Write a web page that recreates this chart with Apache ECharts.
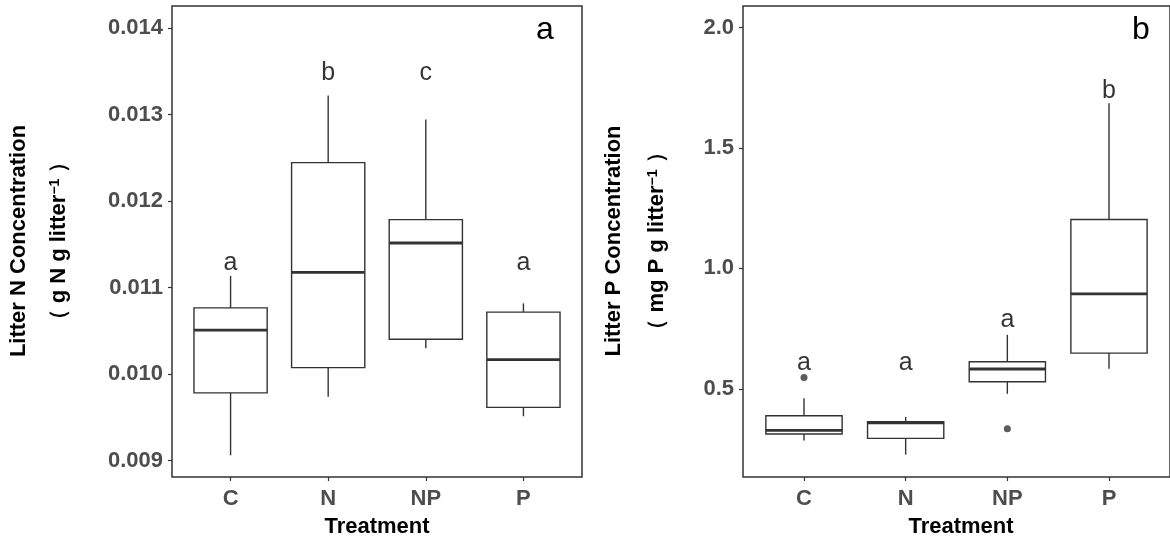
<!DOCTYPE html>
<html>
<head>
<meta charset="utf-8">
<script src="https://cdn.jsdelivr.net/npm/echarts@6.0.0/dist/echarts.min.js"></script>
<style>
html, body { margin: 0; padding: 0; background: #fff; }
#chart { width: 1170px; height: 541px; }
</style>
</head>
<body>
<div id="chart"></div>
<script>
// 处理组
const treatments = ['C', 'N', 'NP', 'P'];

// 箱线数据: [min, q1, median, q3, max]
const litterN = [
    [0.009061, 0.009783, 0.010509, 0.010765, 0.011135],
    [0.009739, 0.010074, 0.011175, 0.012444, 0.013221],
    [0.010297, 0.010402, 0.011515, 0.011785, 0.012943],
    [0.009512, 0.009615, 0.010167, 0.010716, 0.010817]
];
const litterP = [
    [0.285, 0.312, 0.327, 0.388, 0.461],
    [0.226, 0.294, 0.358, 0.363, 0.383],
    [0.479, 0.529, 0.582, 0.612, 0.724],
    [0.583, 0.648, 0.894, 1.203, 1.686]
];
// 离群点 [组序号, 值]
const outliersP = [[0, 0.547], [2, 0.334]];

// 显著性字母
const lettersN = ['a', 'b', 'c', 'a'];
const letterYN = [0.01128, 0.01348, 0.01348, 0.01128];
const lettersP = ['a', 'a', 'a', 'b'];
const letterYP = [0.608, 0.608, 0.784, 1.736];

// 刻度
const ticksN = [0.009, 0.010, 0.011, 0.012, 0.013, 0.014];
const ticksP = [0.5, 1.0, 1.5, 2.0];

const FONT = "'Liberation Sans', Arial, sans-serif";
const INK = '#333';

function renderBox(params, api) {
    const x = api.value(0);
    const p = [1, 2, 3, 4, 5].map(i => api.coord([x, api.value(i)]));
    const half = api.size([0.75, 0])[0] / 2;
    const cx = p[0][0];
    const thin = { stroke: INK, lineWidth: 1.4 };
    return {
        type: 'group',
        children: [
            { type: 'line', shape: { x1: cx, y1: p[4][1], x2: cx, y2: p[3][1] }, style: thin },
            { type: 'line', shape: { x1: cx, y1: p[1][1], x2: cx, y2: p[0][1] }, style: thin },
            {
                type: 'rect',
                shape: { x: cx - half, y: p[3][1], width: half * 2, height: p[1][1] - p[3][1] },
                style: { fill: '#fff', stroke: INK, lineWidth: 1.4 }
            },
            { type: 'line', shape: { x1: cx - half, y1: p[2][1], x2: cx + half, y2: p[2][1] }, style: { stroke: INK, lineWidth: 2.8 } }
        ]
    };
}

function xAxisFor(gridIndex) {
    return {
        type: 'value', gridIndex: gridIndex, min: -0.6, max: 3.6,
        axisLine: { show: false, onZero: false },
        splitLine: { show: false },
        axisTick: { show: true, length: 4, customValues: [0, 1, 2, 3], lineStyle: { color: INK, width: 1.2 } },
        axisLabel: {
            customValues: [0, 1, 2, 3], formatter: v => treatments[Math.round(v)],
            margin: 11, color: '#4d4d4d', fontWeight: 'bold', fontSize: 22, fontFamily: FONT
        }
    };
}

function yAxisFor(gridIndex, min, max, ticks, digits) {
    return {
        type: 'value', gridIndex: gridIndex, min: min, max: max,
        axisLine: { show: false, onZero: false },
        splitLine: { show: false },
        axisTick: { show: true, length: 4, customValues: ticks, lineStyle: { color: INK, width: 1.2 } },
        axisLabel: {
            customValues: ticks, formatter: v => v.toFixed(digits),
            margin: 9, color: '#4d4d4d', fontWeight: 'bold', fontSize: 22, fontFamily: FONT
        }
    };
}

function letterSeries(idx, letters, ys) {
    return {
        type: 'scatter', xAxisIndex: idx, yAxisIndex: idx, symbolSize: 0, silent: true,
        data: letters.map((t, i) => ({ value: [i, ys[i]], name: t })),
        label: { show: true, position: 'inside', formatter: p => p.name, color: '#000', fontSize: 25, fontFamily: FONT }
    };
}

function vText(x, y, text, rich) {
    return {
        type: 'text', x: x, y: y, rotation: Math.PI / 2,
        style: { text: text, rich: rich, align: 'center', verticalAlign: 'middle', fill: '#000', font: 'bold 22px ' + FONT }
    };
}

const richUnit = {
    n: { fontSize: 22, fontWeight: 'bold', fontFamily: FONT, color: '#000' },
    s: { fontSize: 14, fontWeight: 'bold', fontFamily: FONT, color: '#000', verticalAlign: 'top', padding: [0, 0, 8, 0] }
};

const chart = echarts.init(document.getElementById('chart'));
chart.setOption({
    backgroundColor: '#fff',
    animation: false,
    grid: [
        { left: 172, top: 6, width: 410, height: 471, show: true, borderColor: INK, borderWidth: 1.5, backgroundColor: 'transparent' },
        { left: 743, top: 6, width: 435, height: 471, show: true, borderColor: INK, borderWidth: 1.5, backgroundColor: 'transparent' }
    ],
    xAxis: [xAxisFor(0), xAxisFor(1)],
    yAxis: [
        yAxisFor(0, 0.00881, 0.014255, ticksN, 3),
        yAxisFor(1, 0.1334, 2.090, ticksP, 1)
    ],
    series: [
        {
            type: 'custom', xAxisIndex: 0, yAxisIndex: 0, renderItem: renderBox,
            encode: { x: 0, y: [1, 2, 3, 4, 5] },
            data: litterN.map((d, i) => [i].concat(d))
        },
        {
            type: 'custom', xAxisIndex: 1, yAxisIndex: 1, renderItem: renderBox,
            encode: { x: 0, y: [1, 2, 3, 4, 5] },
            data: litterP.map((d, i) => [i].concat(d))
        },
        {
            type: 'scatter', xAxisIndex: 1, yAxisIndex: 1, symbolSize: 7,
            itemStyle: { color: INK }, data: outliersP
        },
        letterSeries(0, lettersN, letterYN),
        letterSeries(1, lettersP, letterYP)
    ],
    graphic: [
        vText(19, 241, 'Litter N Concentration'),
        vText(59, 241, '{n|（ g N g litter}{s|−1}{n| ）}', richUnit),
        vText(614, 241, 'Litter P Concentration'),
        vText(657, 241, '{n|（ mg P g litter}{s|−1}{n| ）}', richUnit),
        { type: 'text', x: 377, y: 527, style: { text: 'Treatment', align: 'center', verticalAlign: 'middle', fill: '#000', font: 'bold 22px ' + FONT } },
        { type: 'text', x: 961, y: 527, style: { text: 'Treatment', align: 'center', verticalAlign: 'middle', fill: '#000', font: 'bold 22px ' + FONT } },
        { type: 'text', x: 545, y: 30, style: { text: 'a', align: 'center', verticalAlign: 'middle', fill: '#000', font: '32px ' + FONT } },
        { type: 'text', x: 1141, y: 30, style: { text: 'b', align: 'center', verticalAlign: 'middle', fill: '#000', font: '32px ' + FONT } }
    ]
});
</script>
</body>
</html>
